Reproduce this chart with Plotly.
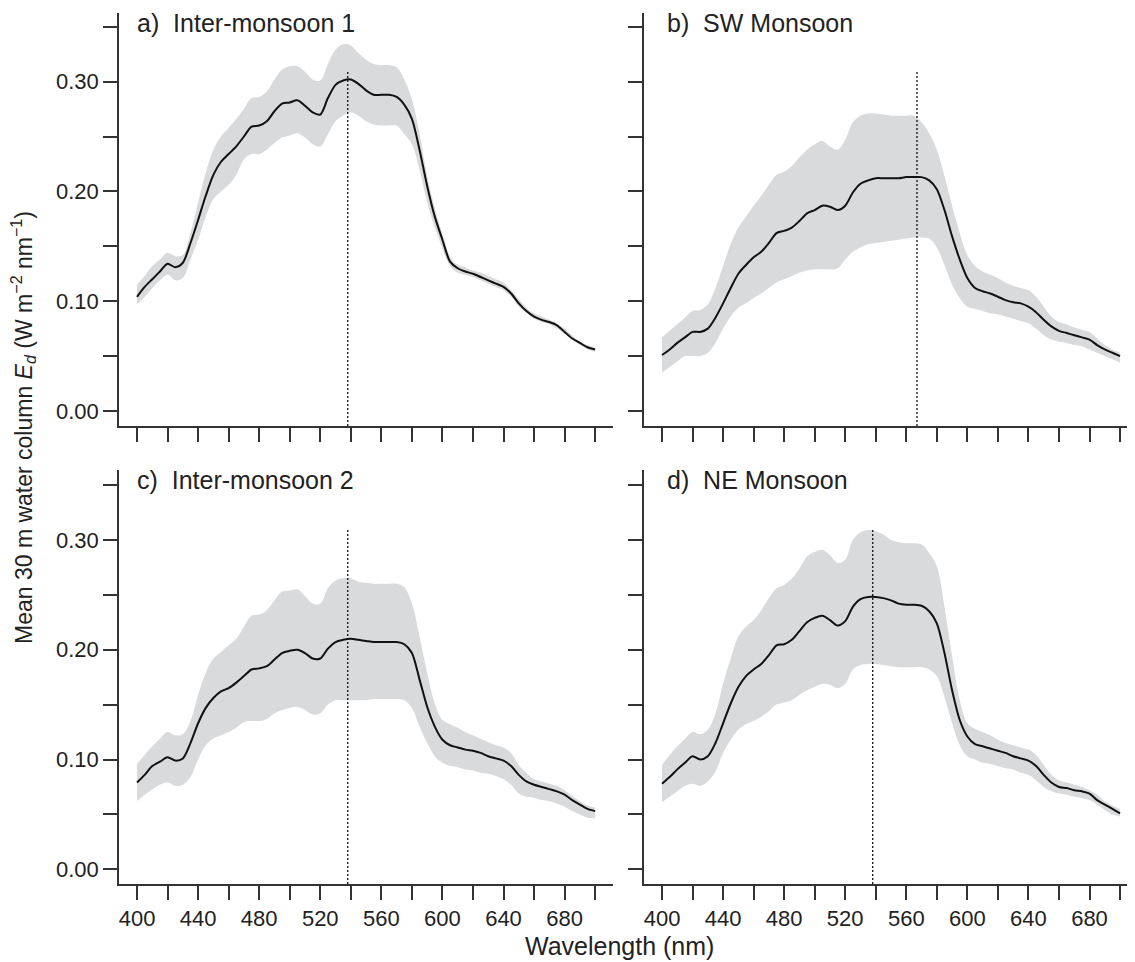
import plotly.graph_objects as go

# wavelength grid, 5 nm steps
wl = list(range(400, 701, 5))

# a) Inter-monsoon 1
a_mean = [0.104, 0.113, 0.120, 0.127, 0.134, 0.131, 0.135, 0.153, 0.174, 0.196,
          0.215, 0.227, 0.234, 0.241, 0.250, 0.259, 0.260, 0.264, 0.273, 0.280,
          0.281, 0.283, 0.278, 0.272, 0.270, 0.285, 0.297, 0.301, 0.302, 0.298,
          0.292, 0.288, 0.288, 0.288, 0.286, 0.279, 0.266, 0.238, 0.205, 0.177,
          0.156, 0.136, 0.130, 0.127, 0.125, 0.122, 0.119, 0.116, 0.113, 0.107,
          0.098, 0.091, 0.086, 0.083, 0.081, 0.078, 0.072, 0.066, 0.062, 0.058,
          0.056]
a_upper = [0.115, 0.123, 0.132, 0.138, 0.144, 0.141, 0.142, 0.162, 0.190, 0.217,
           0.238, 0.250, 0.258, 0.266, 0.275, 0.285, 0.286, 0.291, 0.302, 0.311,
           0.314, 0.314, 0.309, 0.302, 0.301, 0.316, 0.329, 0.334, 0.333, 0.326,
           0.320, 0.316, 0.315, 0.315, 0.313, 0.302, 0.284, 0.253, 0.214, 0.185,
           0.161, 0.141, 0.133, 0.131, 0.128, 0.126, 0.123, 0.120, 0.117, 0.110,
           0.102, 0.094, 0.089, 0.086, 0.083, 0.080, 0.075, 0.069, 0.063, 0.060,
           0.057]
a_lower = [0.097, 0.104, 0.112, 0.119, 0.124, 0.119, 0.121, 0.138, 0.156, 0.177,
           0.193, 0.200, 0.206, 0.215, 0.229, 0.234, 0.234, 0.238, 0.244, 0.249,
           0.251, 0.253, 0.249, 0.243, 0.241, 0.252, 0.264, 0.269, 0.272, 0.269,
           0.264, 0.261, 0.260, 0.260, 0.260, 0.252, 0.243, 0.220, 0.190, 0.167,
           0.148, 0.132, 0.126, 0.124, 0.122, 0.119, 0.116, 0.113, 0.110, 0.104,
           0.095, 0.089, 0.084, 0.081, 0.079, 0.075, 0.070, 0.065, 0.060, 0.056,
           0.054]

# b) SW Monsoon
b_mean = [0.051, 0.056, 0.062, 0.067, 0.072, 0.072, 0.075, 0.085, 0.098, 0.112,
          0.125, 0.133, 0.140, 0.145, 0.153, 0.162, 0.164, 0.167, 0.173, 0.180,
          0.183, 0.187, 0.186, 0.183, 0.187, 0.199, 0.207, 0.210, 0.212, 0.212,
          0.212, 0.212, 0.213, 0.213, 0.213, 0.210, 0.202, 0.183, 0.159, 0.138,
          0.121, 0.112, 0.109, 0.107, 0.104, 0.101, 0.099, 0.098, 0.095, 0.090,
          0.083, 0.077, 0.073, 0.071, 0.069, 0.067, 0.065, 0.060, 0.056, 0.053,
          0.050]
b_upper = [0.067, 0.073, 0.079, 0.085, 0.091, 0.092, 0.097, 0.112, 0.132, 0.152,
           0.167, 0.177, 0.187, 0.196, 0.206, 0.215, 0.218, 0.223, 0.231, 0.238,
           0.243, 0.246, 0.241, 0.238, 0.247, 0.263, 0.269, 0.271, 0.271, 0.270,
           0.269, 0.269, 0.269, 0.269, 0.263, 0.253, 0.238, 0.214, 0.187, 0.162,
           0.142, 0.132, 0.127, 0.124, 0.121, 0.117, 0.114, 0.112, 0.110, 0.104,
           0.095, 0.086, 0.081, 0.079, 0.076, 0.074, 0.072, 0.066, 0.060, 0.056,
           0.053]
b_lower = [0.035, 0.040, 0.045, 0.050, 0.050, 0.050, 0.053, 0.062, 0.075, 0.086,
           0.094, 0.098, 0.103, 0.107, 0.112, 0.117, 0.120, 0.123, 0.126, 0.128,
           0.129, 0.129, 0.129, 0.130, 0.138, 0.145, 0.149, 0.152, 0.153, 0.154,
           0.155, 0.156, 0.157, 0.158, 0.158, 0.157, 0.149, 0.133, 0.115, 0.103,
           0.095, 0.093, 0.091, 0.089, 0.088, 0.086, 0.084, 0.082, 0.080, 0.075,
           0.069, 0.065, 0.063, 0.062, 0.060, 0.059, 0.056, 0.053, 0.050, 0.047,
           0.044]

# c) Inter-monsoon 2
c_mean = [0.079, 0.086, 0.094, 0.098, 0.102, 0.099, 0.101, 0.115, 0.133, 0.147,
          0.156, 0.162, 0.165, 0.170, 0.176, 0.182, 0.183, 0.185, 0.191, 0.197,
          0.199, 0.200, 0.197, 0.192, 0.192, 0.201, 0.207, 0.209, 0.210, 0.209,
          0.208, 0.207, 0.207, 0.207, 0.207, 0.205, 0.197, 0.173, 0.148, 0.130,
          0.118, 0.113, 0.111, 0.109, 0.108, 0.106, 0.103, 0.101, 0.099, 0.094,
          0.086, 0.080, 0.077, 0.075, 0.073, 0.071, 0.068, 0.063, 0.059, 0.055,
          0.053]
c_upper = [0.096, 0.104, 0.112, 0.119, 0.125, 0.122, 0.123, 0.135, 0.159, 0.179,
           0.192, 0.198, 0.204, 0.210, 0.221, 0.231, 0.232, 0.236, 0.245, 0.253,
           0.254, 0.255, 0.249, 0.242, 0.242, 0.256, 0.263, 0.265, 0.265, 0.262,
           0.261, 0.260, 0.260, 0.260, 0.260, 0.257, 0.242, 0.212, 0.179, 0.151,
           0.136, 0.132, 0.129, 0.125, 0.122, 0.119, 0.116, 0.113, 0.111, 0.106,
           0.095, 0.088, 0.082, 0.080, 0.078, 0.076, 0.072, 0.067, 0.062, 0.058,
           0.056]
c_lower = [0.062, 0.068, 0.073, 0.077, 0.079, 0.076, 0.077, 0.084, 0.100, 0.113,
           0.119, 0.122, 0.125, 0.129, 0.134, 0.135, 0.135, 0.137, 0.142, 0.145,
           0.147, 0.148, 0.145, 0.141, 0.142, 0.150, 0.154, 0.154, 0.154, 0.154,
           0.154, 0.155, 0.155, 0.155, 0.155, 0.154, 0.147, 0.130, 0.115, 0.103,
           0.097, 0.094, 0.093, 0.091, 0.090, 0.088, 0.087, 0.085, 0.082, 0.077,
           0.069, 0.066, 0.065, 0.063, 0.062, 0.060, 0.057, 0.053, 0.050, 0.047,
           0.047]

# d) NE Monsoon
d_mean = [0.078, 0.084, 0.091, 0.097, 0.103, 0.100, 0.103, 0.115, 0.133, 0.151,
          0.166, 0.176, 0.182, 0.187, 0.195, 0.204, 0.205, 0.209, 0.217, 0.225,
          0.229, 0.231, 0.227, 0.222, 0.226, 0.239, 0.246, 0.248, 0.248, 0.247,
          0.245, 0.242, 0.241, 0.241, 0.240, 0.235, 0.224, 0.197, 0.163, 0.136,
          0.121, 0.114, 0.112, 0.110, 0.108, 0.106, 0.103, 0.101, 0.099, 0.094,
          0.086, 0.079, 0.075, 0.074, 0.072, 0.071, 0.069, 0.063, 0.059, 0.055,
          0.051]
d_upper = [0.095, 0.104, 0.112, 0.119, 0.125, 0.123, 0.127, 0.142, 0.169, 0.192,
           0.212, 0.221, 0.227, 0.236, 0.247, 0.256, 0.259, 0.265, 0.274, 0.285,
           0.289, 0.291, 0.286, 0.279, 0.282, 0.300, 0.307, 0.309, 0.308, 0.305,
           0.300, 0.298, 0.297, 0.297, 0.296, 0.288, 0.276, 0.239, 0.194, 0.154,
           0.133, 0.128, 0.125, 0.122, 0.118, 0.115, 0.113, 0.111, 0.109, 0.104,
           0.095, 0.086, 0.081, 0.079, 0.077, 0.075, 0.072, 0.068, 0.062, 0.058,
           0.055]
d_lower = [0.061, 0.066, 0.071, 0.076, 0.078, 0.076, 0.080, 0.089, 0.106, 0.118,
           0.127, 0.132, 0.135, 0.139, 0.144, 0.150, 0.152, 0.154, 0.159, 0.163,
           0.166, 0.169, 0.168, 0.165, 0.169, 0.182, 0.186, 0.187, 0.187, 0.186,
           0.185, 0.184, 0.184, 0.184, 0.184, 0.182, 0.176, 0.157, 0.133, 0.113,
           0.103, 0.100, 0.097, 0.096, 0.094, 0.092, 0.091, 0.088, 0.086, 0.081,
           0.075, 0.071, 0.069, 0.068, 0.066, 0.065, 0.063, 0.059, 0.054, 0.050,
           0.048]

titles = ["a)  Inter-monsoon 1", "b)  SW Monsoon", "c)  Inter-monsoon 2", "d)  NE Monsoon"]
peak_wl = [538, 567, 538, 538]
peak_top = 0.31

panels = [(a_mean, a_upper, a_lower), (b_mean, b_upper, b_lower),
          (c_mean, c_upper, c_lower), (d_mean, d_upper, d_lower)]

# the page body has an 8 px margin: the figure starts at (8, 8) in the page,
# so all positions below are page pixels shifted by OFF
OFF = 8
W, H = 1135 - OFF, 962 - OFF
FONT = "Liberation Sans, Arial, Helvetica, sans-serif"
AXC = "#333333"
TXT = "#222222"


def px(x):
    return (x - OFF) / W


def py(y):
    return 1 - (y - OFF) / H


# panel boxes in page pixels: (left, right, top, bottom)
boxes = [(119, 613, 13, 426), (644, 1135, 13, 426),
         (119, 613, 470, 884), (644, 1135, 470, 884)]
xranges = [[388.2, 711.7], [388.2, 709.8], [388.2, 711.7], [388.2, 709.8]]
yranges = [[-0.0137, 0.3625], [-0.0137, 0.3625], [-0.0134, 0.3637], [-0.0134, 0.3637]]
title_x = [135, 665, 135, 665]

fig = go.Figure()

xt = list(range(400, 701, 20))
xt_txt = [str(v) if (v - 400) % 40 == 0 and v < 700 else "" for v in xt]
yt = [0, 0.05, 0.10, 0.15, 0.20, 0.25, 0.30, 0.35]
yt_txt = ["0.00", "", "0.10", "", "0.20", "", "0.30", ""]

for i, (m, up, lo) in enumerate(panels):
    n = "" if i == 0 else str(i + 1)
    xa, ya = "x" + n, "y" + n
    fig.add_trace(go.Scatter(x=wl, y=up, mode="lines", line=dict(width=0, shape="spline"),
                             xaxis=xa, yaxis=ya, showlegend=False, hoverinfo="skip"))
    fig.add_trace(go.Scatter(x=wl, y=lo, mode="lines", line=dict(width=0, shape="spline"),
                             fill="tonexty", fillcolor="#d9dadc",
                             xaxis=xa, yaxis=ya, showlegend=False, hoverinfo="skip"))
    fig.add_trace(go.Scatter(x=wl, y=m, mode="lines",
                             line=dict(color="#111111", width=2, shape="spline", smoothing=0.8),
                             xaxis=xa, yaxis=ya, showlegend=False))
    fig.add_trace(go.Scatter(x=[peak_wl[i], peak_wl[i]], y=[yranges[i][0], peak_top], mode="lines",
                             line=dict(color="#111111", width=1.3, dash="2px,2px"),
                             xaxis=xa, yaxis=ya, showlegend=False))

    l, r, t, b = boxes[i]
    common = dict(showline=True, linecolor=AXC, linewidth=1.5, ticks="outside",
                  ticklen=14, tickwidth=1.5, tickcolor=AXC, showgrid=False, zeroline=False,
                  tickfont=dict(family=FONT, size=22, color=TXT))
    fig.layout["xaxis" + n] = dict(domain=[px(l), px(r)], range=xranges[i], anchor=ya,
                                   tickmode="array", tickvals=xt, ticktext=xt_txt,
                                   showticklabels=(i >= 2), **common)
    fig.layout["yaxis" + n] = dict(domain=[py(b), py(t)], range=yranges[i], anchor=xa,
                                   tickmode="array", tickvals=yt, ticktext=yt_txt,
                                   showticklabels=(i % 2 == 0), **common)

    fig.add_annotation(text=titles[i], xref="paper", yref="paper",
                       x=px(title_x[i]), y=py(t + 9.5), xanchor="left", yanchor="middle",
                       showarrow=False, font=dict(family=FONT, size=25, color=TXT))

fig.add_annotation(text="Wavelength (nm)", xref="paper", yref="paper",
                   x=px(619), y=py(946), xanchor="center", yanchor="middle",
                   showarrow=False, font=dict(family=FONT, size=25, color=TXT))
fig.add_annotation(text="Mean 30 m water column <i>E<sub>d</sub></i> (W m<sup>−2</sup> nm<sup>−1</sup>)",
                   xref="paper", yref="paper", x=px(23), y=py(428), textangle=-90,
                   xanchor="center", yanchor="middle", showarrow=False,
                   font=dict(family=FONT, size=23, color=TXT))

fig.update_layout(width=W, height=H, margin=dict(l=0, r=0, t=0, b=0),
                  plot_bgcolor="white", paper_bgcolor="white")

fig.write_html("out.html")
